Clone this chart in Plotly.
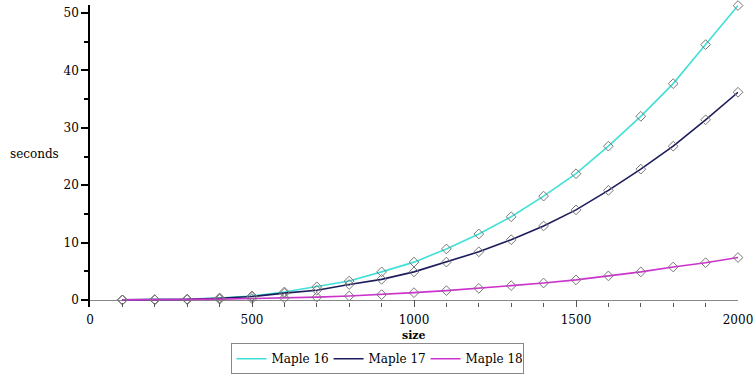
import plotly.graph_objects as go

sizes = [100, 200, 300, 400, 500, 600, 700, 800, 900, 1000,
         1100, 1200, 1300, 1400, 1500, 1600, 1700, 1800, 1900, 2000]
maple16 = [0.02, 0.05, 0.15, 0.35, 0.7, 1.4, 2.3, 3.3, 4.9, 6.6,
           8.9, 11.5, 14.5, 18.1, 22.0, 26.8, 32.0, 37.7, 44.5, 51.3]
maple17 = [0.02, 0.05, 0.1, 0.3, 0.6, 1.2, 1.7, 2.7, 3.6, 4.9,
           6.6, 8.4, 10.5, 12.9, 15.7, 19.1, 22.8, 26.8, 31.4, 36.2]
maple18 = [0.02, 0.04, 0.08, 0.15, 0.25, 0.35, 0.5, 0.7, 0.93, 1.28,
           1.63, 2.03, 2.5, 2.96, 3.5, 4.2, 4.9, 5.75, 6.5, 7.4]
series_names = ["Maple 16", "Maple 17", "Maple 18"]
series_colors = ["#40e0d8", "#1c1c5c", "#cc33cc"]
x_ticks = [0, 500, 1000, 1500, 2000]
y_ticks = [0, 10, 20, 30, 40, 50]

FONT = "DejaVu Serif"
fig = go.Figure()
for name, vals, col in zip(series_names, [maple16, maple17, maple18], series_colors):
    fig.add_trace(go.Scatter(x=sizes, y=vals, mode="lines", name=name,
                             line=dict(color=col, width=1.6)))
for name, vals, col in zip(series_names, [maple16, maple17, maple18], series_colors):
    fig.add_trace(go.Scatter(x=sizes, y=vals, mode="markers", showlegend=False,
                             cliponaxis=False,
                             marker=dict(symbol="diamond-open", size=7.5,
                                         color="#777777", line=dict(width=1))))

fig.update_layout(
    width=756, height=378, autosize=False,
    margin=dict(l=90, r=18, t=5, b=71),
    plot_bgcolor="white", paper_bgcolor="white",
    font=dict(family=FONT, size=12, color="black"),
    showlegend=True,
    legend=dict(orientation="h", x=0.443, xanchor="center",
                yref="container", y=0.092, yanchor="top",
                bordercolor="#888888", borderwidth=1, font=dict(family=FONT, size=12),
                itemwidth=30, tracegroupgap=0, entrywidth=52),
    xaxis=dict(range=[0, 2000], tickvals=x_ticks, showgrid=False, zeroline=False,
               automargin=False,
               showline=False, ticks="inside", ticklen=7, tickcolor="#555555",
               ticklabelstandoff=4,
               minor=dict(dtick=100, ticks="inside", ticklen=4, tickcolor="#555555", showgrid=False),
               tickfont=dict(family=FONT, size=12)),
    yaxis=dict(range=[-1.22, 51.4], tickvals=y_ticks, showgrid=False,
               automargin=False,
               zeroline=True, zerolinecolor="#888888", zerolinewidth=1,
               showline=True, linecolor="black", linewidth=1.5,
               ticks="outside", ticklen=7, tickcolor="black", tickwidth=1.5,
               minor=dict(dtick=5, ticks="outside", ticklen=4, tickcolor="black", tickwidth=1.5, showgrid=False),
               tickfont=dict(family=FONT, size=12)),
    annotations=[
        dict(text="seconds", xref="paper", yref="paper", x=-0.085, y=0.505,
             xanchor="center", yanchor="middle", showarrow=False,
             font=dict(family=FONT, size=12)),
        dict(text="<b>size</b>", xref="paper", yref="paper", x=0.5, y=-0.094,
             xanchor="center", yanchor="middle", showarrow=False,
             font=dict(family=FONT, size=11)),
    ],
)
fig.write_html("out.html", config={"displayModeBar": False},
               post_script="document.body.style.margin='0px';")
